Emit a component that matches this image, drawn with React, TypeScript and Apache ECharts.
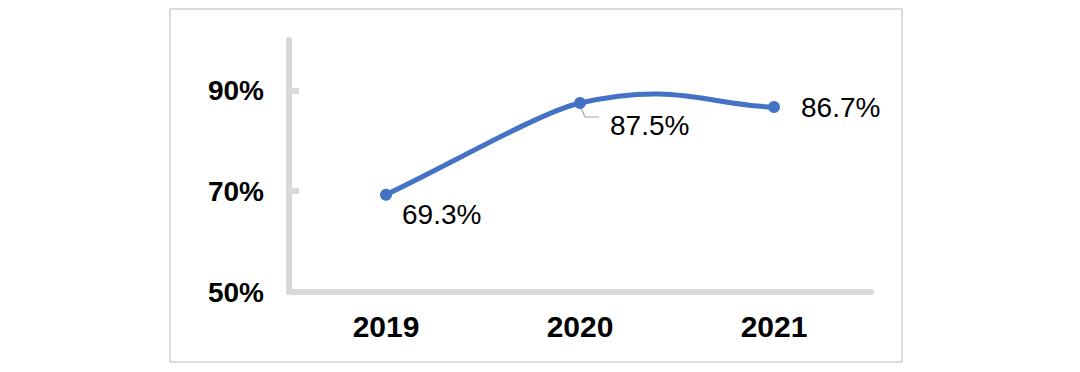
import React, { useEffect, useRef } from "react";
import * as echarts from "echarts";

const categories = ["2019", "2020", "2021"];
const values = [69.3, 87.5, 86.7];
const yTicks = [50, 70, 90];

export default function App() {
  const ref = useRef<HTMLDivElement>(null);
  useEffect(() => {
    if (!ref.current) return;
    const chart = echarts.init(ref.current, null, { renderer: "svg" });
    const font = "'Liberation Sans', Arial, sans-serif";
    const labelShift = [
      { dx: 5, dy: 20 },
      { dx: 19, dy: 22 },
      { dx: 16, dy: 0 },
    ];
    const blue = "#4472C4";

    // Smooth curve (spreadsheet-like) drawn through the data via api.coord
    const renderCurve = (params: any, api: any) => {
      if (params.dataIndex !== 0) return null;
      const pts = values.map((v, i) => api.coord([i, v]));
      const n = pts.length;
      const children: any[] = [];
      for (let i = 0; i < n - 1; i++) {
        const p0 = pts[i];
        const p1 = pts[i + 1];
        // outgoing tangent at p0
        let mo: number[];
        if (i === 0) mo = [p1[0] - p0[0], p1[1] - p0[1]];
        else {
          const pp = pts[i - 1];
          mo = [(p1[0] - pp[0]) * 0.75, (p1[1] - pp[1]) * 0.75];
        }
        // incoming tangent at p1
        let mi: number[];
        if (i + 1 === n - 1) mi = [p1[0] - p0[0], p1[1] - p0[1]];
        else {
          const pn = pts[i + 2];
          mi = [(pn[0] - p0[0]) * 0.3, (pn[1] - p0[1]) * 0.3];
        }
        children.push({
          type: "bezierCurve",
          shape: {
            x1: p0[0],
            y1: p0[1],
            cpx1: p0[0] + mo[0] / 3,
            cpy1: p0[1] + mo[1] / 3,
            cpx2: p1[0] - mi[0] / 3,
            cpy2: p1[1] - mi[1] / 3,
            x2: p1[0],
            y2: p1[1],
          },
          style: { stroke: blue, lineWidth: 5, fill: "none", lineCap: "round" },
        });
      }
      // leader line for the 2020 label
      const q = pts[1];
      children.push({
        type: "polyline",
        shape: {
          points: [
            [q[0] + 1, q[1] + 5],
            [q[0] + 5, q[1] + 14],
            [q[0] + 19, q[1] + 14],
          ],
        },
        style: { stroke: "#a6a6a6", lineWidth: 1.2, fill: "none" },
      });
      return { type: "group", children };
    };

    chart.setOption({
      animation: false,
      backgroundColor: "#ffffff",
      graphic: [
        {
          type: "rect",
          shape: { x: 170, y: 9, width: 732, height: 353 },
          style: { fill: "none", stroke: "#dcdcdc", lineWidth: 2 },
          silent: true,
        },
      ],
      grid: { left: 289, right: 209, top: 40, bottom: 80 },
      xAxis: {
        type: "category",
        data: categories,
        boundaryGap: true,
        axisLine: { show: true, lineStyle: { color: "#d9d9d9", width: 6 } },
        axisTick: { show: false },
        axisLabel: {
          color: "#000",
          fontSize: 30,
          fontFamily: font,
          fontWeight: "bold",
          margin: 19,
        },
        splitLine: { show: false },
      },
      yAxis: {
        type: "value",
        min: 50,
        max: 100,
        interval: 20,
        axisLine: { show: true, lineStyle: { color: "#d9d9d9", width: 6 } },
        axisTick: {
          show: true,
          inside: true,
          length: 10,
          customValues: yTicks,
          lineStyle: { color: "#d9d9d9", width: 6 },
        },
        axisLabel: {
          color: "#000",
          fontSize: 28,
          fontFamily: font,
          fontWeight: "bold",
          margin: 25,
          customValues: yTicks,
          formatter: (v: number) => `${v}%`,
        },
        splitLine: { show: false },
      },
      series: [
        {
          type: "custom",
          renderItem: renderCurve,
          data: values.map((v, i) => [i, v]),
          silent: true,
          z: 2,
        },
        {
          type: "line",
          data: values,
          symbol: "circle",
          symbolSize: 12,
          lineStyle: { width: 0, opacity: 0 },
          itemStyle: { color: blue },
          z: 3,
          label: {
            show: true,
            position: "right",
            color: "#000",
            fontSize: 28,
            fontFamily: font,
            distance: 5,
            formatter: (p: any) => `${p.value}%`,
          },
          labelLayout: (p: any) => labelShift[p.dataIndex],
        },
      ],
    });
    return () => chart.dispose();
  }, []);
  return (
    <div
      ref={ref}
      style={{ position: "fixed", left: 0, top: 0, width: 1080, height: 372 }}
    />
  );
}
